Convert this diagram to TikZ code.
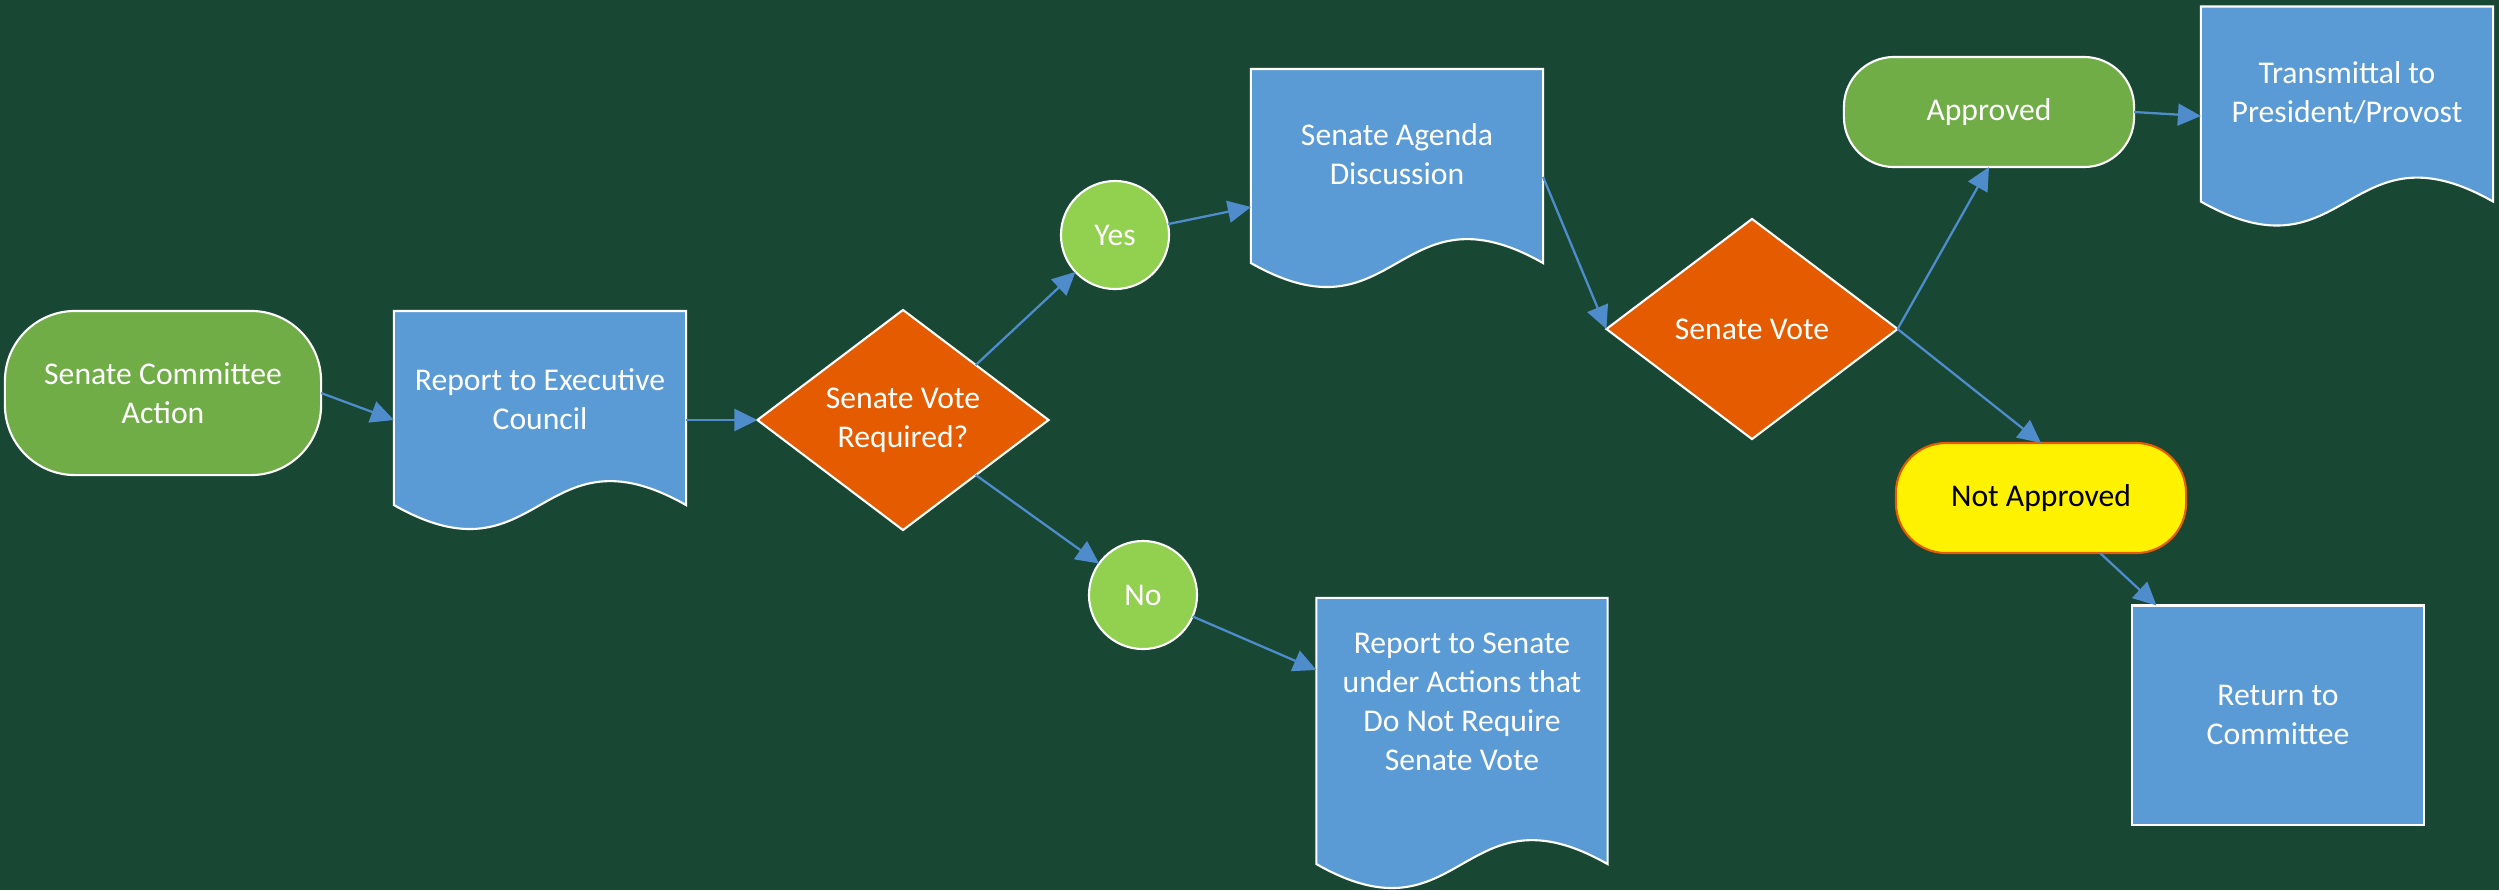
\documentclass[tikz,border=0pt]{standalone}
\usepackage{fontspec}
\setmainfont{Carlito}
\usepackage{tikz}
\usetikzlibrary{arrows.meta,shapes.geometric,calc,backgrounds}

\definecolor{boardgreen}{RGB}{24,71,52}
\definecolor{termgreen}{RGB}{112,173,71}
\definecolor{leafgreen}{RGB}{146,208,80}
\definecolor{docblue}{RGB}{91,155,213}
\definecolor{voteorange}{RGB}{229,91,0}
\definecolor{flowblue}{RGB}{78,140,204}

\begin{document}
\begin{tikzpicture}[x=0.01cm, y=-0.01cm,
  every node/.style={font=\fontsize{9}{11.1}\selectfont, text=white, align=center, outer sep=0pt},
  term/.style={draw=white, line width=0.6pt, fill=termgreen, rounded corners=0.5cm, minimum width=2.9cm, minimum height=1.1cm},
  doc/.style={minimum width=2.92cm, minimum height=1.94cm, inner sep=0pt},
  docline/.style={draw=white, line width=0.6pt, fill=docblue},
  decision/.style={diamond, draw=white, line width=0.6pt, fill=voteorange, minimum width=2.91cm, minimum height=2.2cm, inner sep=0pt},
  answer/.style={circle, draw=white, line width=0.6pt, fill=leafgreen, minimum size=1.08cm, inner sep=0pt},
  flow/.style={draw=flowblue, line width=0.65pt, -{Triangle[length=0.23cm, width=0.22cm]}}
]
\useasboundingbox (0,0) rectangle (2499,890);

% Nodes
\node[term, minimum width=3.16cm, minimum height=1.64cm, rounded corners=0.7cm] (action) at (163,393) {Senate Committee\\Action};
\node[doc, label={[yshift=0.09cm]center:Report to Executive\\Council}] (exec) at (540,408) {};
\node[decision] (req) at (903,420) {Senate Vote\\Required?};
\node[answer] (yes) at (1115,235) {Yes};
\node[answer] (no) at (1143,595) {No};
\node[doc, label={[yshift=0.115cm]center:Senate Agenda\\Discussion}] (agenda) at (1397,166) {};
\node[doc, minimum width=2.91cm, minimum height=2.66cm, label={[yshift=0.295cm]center:Report to Senate\\under Actions that\\Do Not Require\\Senate Vote}] (senrep) at (1462,731) {};
\node[decision] (vote) at (1752,329) {Senate Vote};
\node[term] (appr) at (1989,112) {Approved};
\node[doc, minimum height=1.95cm, label={[yshift=0.11cm]center:Transmittal to\\President/Provost}] (trans) at (2347,104) {};
\node[term, fill=yellow, draw=voteorange, text=black] (notappr) at (2041,498) {Not Approved};
\node[draw=white, line width=0.6pt, fill=docblue, minimum width=2.91cm, minimum height=2.19cm] (ret) at (2278,715) {Return to\\Committee};

% Arrows
\draw[flow] (action.east) -- ([yshift=-0.12cm]exec.west);
\draw[flow] (exec.east |- req.west) -- (req.west);
\draw[flow] (req.north east) -- (yes);
\draw[flow] (req.south east) -- (no);
\draw[flow] (yes) -- ([yshift=-0.41cm]agenda.west);
\draw[flow] (no) -- ([yshift=0.61cm]senrep.west);
\draw[flow] ([yshift=-0.11cm]agenda.east) -- (vote.west);
\draw[flow] (vote.east) -- (appr.south);
\draw[flow] (vote.east) -- (notappr.north);
\draw[flow] (appr.east) -- ([yshift=-0.12cm]trans.west);
\draw[flow] ([xshift=0.59cm]notappr.south) -- ([xshift=0.24cm]ret.north west);

% Board and document outlines behind the text
\begin{scope}[on background layer]
  \fill[boardgreen] (0,0) rectangle (2499,890);
  \foreach \d in {exec,agenda,senrep,trans}
    \draw[docline] (\d.north west) -- (\d.north east) -- (\d.south east)
      .. controls ($(\d.south)+(0,-83)$) and ($(\d.south)+(0,83)$) .. (\d.south west) -- cycle;
\end{scope}

\end{tikzpicture}
\end{document}
